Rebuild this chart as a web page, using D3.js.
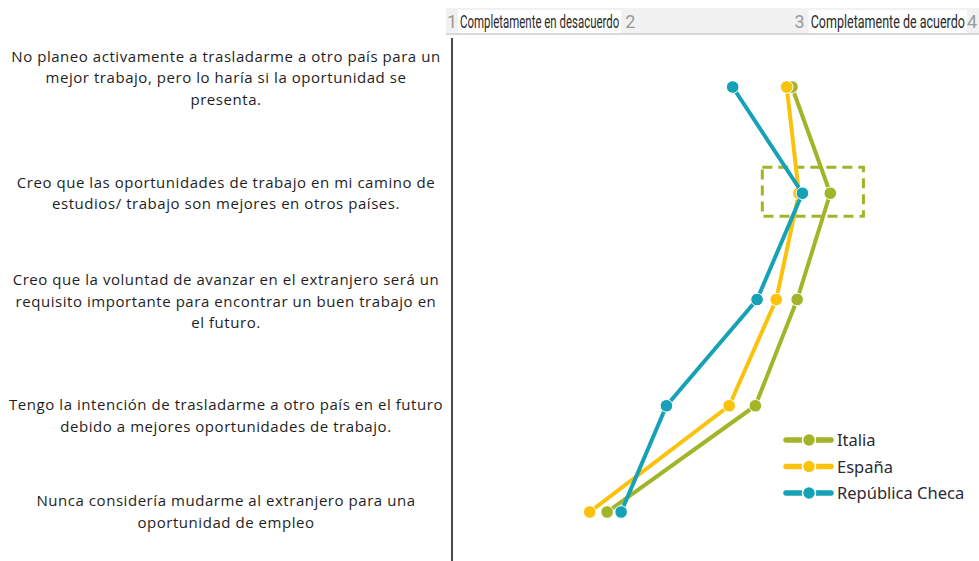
<!DOCTYPE html>
<html>
<head>
<meta charset="utf-8">
<script src="https://cdn.jsdelivr.net/npm/d3@7"></script>
<style>
  html, body { margin: 0; padding: 0; background: #fff; }
  svg { display: block; }
</style>
</head>
<body>
<svg id="chart" width="979" height="561"></svg>
<script>
// ---------- DATA ----------
const categories = [
  "No planeo activamente a trasladarme a otro país para un mejor trabajo, pero lo haría si la oportunidad se presenta.",
  "Creo que las oportunidades de trabajo en mi camino de estudios/ trabajo son mejores en otros países.",
  "Creo que la voluntad de avanzar en el extranjero será un requisito importante para encontrar un buen trabajo en el futuro.",
  "Tengo la intención de trasladarme a otro país en el futuro debido a mejores oportunidades de trabajo.",
  "Nunca considería mudarme al extranjero para una oportunidad de empleo"
];
const categoryLines = [
  ["No planeo activamente a trasladarme a otro país para un", "mejor trabajo, pero lo haría si la oportunidad se", "presenta."],
  ["Creo que las oportunidades de trabajo en mi camino de", "estudios/ trabajo son mejores en otros países."],
  ["Creo que la voluntad de avanzar en el extranjero será un", "requisito importante para encontrar un buen trabajo en", "el futuro."],
  ["Tengo la intención de trasladarme a otro país en el futuro", "debido a mejores oportunidades de trabajo."],
  ["Nunca considería mudarme al extranjero para una", "oportunidad de empleo"]
];
const seriesNames = ["Italia", "España", "República Checa"];
const italia  = [2.95, 3.17, 2.98, 2.74, 1.89];
const espana  = [2.92, 2.99, 2.86, 2.59, 1.79];
const checa   = [2.61, 3.01, 2.75, 2.23, 1.97];
const tickValues = [1, 2, 3, 4];
const tickLabels = ["1", "2", "3", "4"];
const scaleLabels = ["Completamente en desacuerdo", "Completamente de acuerdo"];
const highlight = { category: 1, from: 2.78, to: 3.36 };

// ---------- STYLE / LAYOUT ----------
const colors = ["#a2b427", "#fbc20c", "#15a2b6"];
const textOffsets = [-9, 0, 2, 10, 0];
const tickNudge = [0, 4, -1, -3];

const svg = d3.select("#chart");
const x = d3.scaleLinear().domain([1, 4]).range([452, 975]);
const y = d3.scalePoint().domain(d3.range(categories.length)).range([87, 512]);

// header band
svg.append("rect").attr("x", 446).attr("y", 8).attr("width", 533).attr("height", 25).attr("fill", "#f1f1f1");
svg.append("line").attr("x1", 446).attr("x2", 979).attr("y1", 34).attr("y2", 34)
  .attr("stroke", "#d9d9d9").attr("stroke-width", 2);

// white boxes behind scale labels, text squeezed horizontally to fit
const labelBoxes = [
  { x0: x(1) + 6, x1: x(2) - 5, label: scaleLabels[0] },
  { x0: x(3) + 8, x1: x(4) - 8, label: scaleLabels[1] }
];
labelBoxes.forEach(b => {
  svg.append("rect").attr("x", b.x0).attr("y", 10).attr("width", b.x1 - b.x0).attr("height", 23).attr("fill", "#fff");
  const t = svg.append("text").attr("x", 0).attr("y", 0)
    .attr("font-family", "'Liberation Sans Narrow', 'Roboto', sans-serif")
    .attr("font-size", 18).attr("fill", "#2a2a2a")
    .text(b.label);
  const w = t.node().getComputedTextLength();
  const target = b.x1 - b.x0 - 4;
  t.attr("transform", `translate(${b.x0 + 2},28) scale(${target / w},1)`);
});

// top axis tick labels
svg.append("g").selectAll("text").data(tickValues).join("text")
  .attr("x", (d, i) => x(d) + tickNudge[i]).attr("y", 28).attr("text-anchor", "middle")
  .attr("font-family", "'Liberation Sans Narrow', 'Roboto', sans-serif")
  .attr("font-size", 18).attr("fill", "#9a9a9a")
  .text((d, i) => tickLabels[i]);

// vertical axis line
svg.append("line").attr("x1", x(1)).attr("x2", x(1)).attr("y1", 38).attr("y2", 561)
  .attr("stroke", "#4a4a4a").attr("stroke-width", 2);

// category labels
const labelG = svg.append("g")
  .attr("font-family", "'Open Sans', 'Noto Sans', sans-serif")
  .attr("font-size", 15).attr("letter-spacing", 0.55)
  .attr("fill", "#1e1e1e").attr("text-anchor", "middle");
categoryLines.forEach((lines, i) => {
  const lh = 21.5;
  const cy = y(i) + textOffsets[i];
  const first = cy - (lines.length - 1) * lh / 2 + 5;
  lines.forEach((ln, j) => {
    labelG.append("text").attr("x", 226).attr("y", first + j * lh).text(ln);
  });
});

// highlight dashed rectangle
svg.append("rect")
  .attr("x", x(highlight.from)).attr("y", y(highlight.category) - 26)
  .attr("width", x(highlight.to) - x(highlight.from)).attr("height", 49)
  .attr("fill", "none").attr("stroke", colors[0]).attr("stroke-width", 3)
  .attr("stroke-dasharray", "10,6");

// series
const allSeries = [italia, espana, checa];
const line = d3.line().x(d => x(d.v)).y(d => y(d.i));
allSeries.forEach((vals, s) => {
  const pts = vals.map((v, i) => ({ v, i }));
  const g = svg.append("g");
  g.append("path").datum(pts).attr("d", line)
    .attr("fill", "none").attr("stroke", colors[s]).attr("stroke-width", 4)
    .attr("stroke-linejoin", "round");
  g.selectAll("circle").data(pts).join("circle")
    .attr("cx", d => x(d.v)).attr("cy", d => y(d.i)).attr("r", 6.3)
    .attr("fill", colors[s]).attr("stroke", "#fff").attr("stroke-width", 1);
});

// legend
const legend = svg.append("g").attr("transform", "translate(784,440)");
seriesNames.forEach((name, i) => {
  const g = legend.append("g").attr("transform", `translate(0,${i * 26.5})`);
  g.append("line").attr("x1", 2).attr("x2", 47).attr("y1", 0).attr("y2", 0)
    .attr("stroke", colors[i]).attr("stroke-width", 5.5).attr("stroke-linecap", "round");
  g.append("circle").attr("cx", 25).attr("cy", 0).attr("r", 6.5)
    .attr("fill", colors[i]).attr("stroke", "#fff").attr("stroke-width", 1.5);
  g.append("text").attr("x", 53).attr("y", 6)
    .attr("font-family", "'Noto Sans', 'Open Sans', sans-serif")
    .attr("font-size", 16.5).attr("fill", "#2b2a35").text(name);
});
</script>
</body>
</html>
